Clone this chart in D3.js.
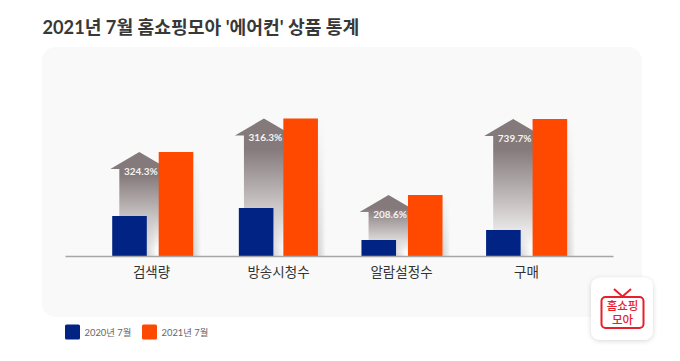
<!DOCTYPE html>
<html>
<head>
<meta charset="utf-8">
<script src="https://cdn.jsdelivr.net/npm/d3@7"></script>
<style>
  html, body { margin: 0; padding: 0; background: #fff; }
  svg { display: block; }
  text { font-family: Lato, "Noto Sans CJK KR", sans-serif; }
</style>
</head>
<body>
<div id="chart"></div>
<script>
const categories = ["검색량", "방송시청수", "알람설정수", "구매"];
const seriesNames = ["2020년 7월", "2021년 7월"];
const values2020 = [40.5, 48.5, 16.5, 26.5];
const values2021 = [104.5, 138, 61.5, 137.5];
const growthLabels = ["324.3%", "316.3%", "208.6%", "739.7%"];
const colors = ["#012484", "#ff4800"];

const width = 680, height = 361;
const baseline = 256.5;

const svg = d3.select("#chart").append("svg")
  .attr("width", width)
  .attr("height", height);

const defs = svg.append("defs");

const arrowGrad = defs.append("linearGradient")
  .attr("id", "arrowGrad")
  .attr("x1", 0).attr("y1", 0).attr("x2", 0).attr("y2", 1);
arrowGrad.append("stop").attr("offset", "0%").attr("stop-color", "#857a7b");
arrowGrad.append("stop").attr("offset", "22%").attr("stop-color", "#857a7b");
arrowGrad.append("stop").attr("offset", "92%").attr("stop-color", "#fbfbfb");

const shadowGrad = defs.append("linearGradient")
  .attr("id", "shadowGrad")
  .attr("x1", 0).attr("y1", 0).attr("x2", 1).attr("y2", 0);
shadowGrad.append("stop").attr("offset", "0%").attr("stop-color", "#000").attr("stop-opacity", 0.16);
shadowGrad.append("stop").attr("offset", "100%").attr("stop-color", "#000").attr("stop-opacity", 0);

const fadeGrad = defs.append("linearGradient")
  .attr("id", "fadeGrad")
  .attr("x1", 0).attr("y1", 0).attr("x2", 0).attr("y2", 1);
fadeGrad.append("stop").attr("offset", "0%").attr("stop-color", "#000");
fadeGrad.append("stop").attr("offset", "100%").attr("stop-color", "#fff");
defs.append("mask")
  .attr("id", "fadeMask")
  .attr("maskContentUnits", "objectBoundingBox")
  .append("rect")
  .attr("width", 1).attr("height", 1)
  .attr("fill", "url(#fadeGrad)");

const cardShadow = defs.append("filter")
  .attr("id", "cardShadow")
  .attr("x", "-30%").attr("y", "-30%").attr("width", "160%").attr("height", "160%");
cardShadow.append("feDropShadow")
  .attr("dx", 0).attr("dy", 1).attr("stdDeviation", 2.5)
  .attr("flood-color", "#000").attr("flood-opacity", 0.16);

// title
svg.append("text")
  .attr("x", 42.5).attr("y", 34)
  .attr("font-size", 18.2)
  .attr("font-weight", 700)
  .attr("fill", "#383838")
  .text("2021년 7월 홈쇼핑모아 '에어컨' 상품 통계");

// panel
svg.append("rect")
  .attr("x", 42).attr("y", 47)
  .attr("width", 600).attr("height", 270)
  .attr("rx", 14)
  .attr("fill", "#f9f9f9");

// scales
const x = d3.scaleBand()
  .domain(categories)
  .range([90.5, 589]);

// the labels in the source are not evenly spaced
const xLabel = d3.scaleOrdinal()
  .domain(categories)
  .range([151, 278, 401, 526]);

const y = d3.scaleLinear()
  .domain([0, 138])
  .range([baseline, baseline - 138]);

const barW = 34.6;
const offsets = [-40.6, 5.9];   // left edge of each bar from the group centre
const blueNudge = [0, 2, 0, 0];

const rows = categories.map((c, i) => ({
  cat: c,
  v0: values2020[i],
  v1: values2021[i],
  label: growthLabels[i],
  nudge: blueNudge[i]
}));

const groups = svg.selectAll("g.group")
  .data(rows)
  .join("g")
  .attr("class", "group")
  .attr("transform", d => `translate(${x(d.cat) + x.bandwidth() / 2},0)`);

// growth arrow behind the bars
groups.append("path")
  .attr("fill", "url(#arrowGrad)")
  .attr("d", d => {
    const top = y(d.v1);
    const cx = -13.5;
    const wing = top + 17;
    const p = d3.path();
    p.moveTo(cx, top);
    p.lineTo(cx + 29, wing);
    p.lineTo(cx + 20, wing);
    p.lineTo(cx + 20, baseline);
    p.lineTo(cx - 20, baseline);
    p.lineTo(cx - 20, wing);
    p.lineTo(cx - 29, wing);
    p.closePath();
    return p.toString();
  });

// soft shadows right of the bars
[["v0", 0, 10], ["v1", 1, 8]].forEach(([key, idx, w]) => {
  groups.append("rect")
    .attr("x", d => offsets[idx] + barW + (idx === 0 ? d.nudge : 0))
    .attr("y", d => y(d[key]))
    .attr("width", w)
    .attr("height", d => baseline - y(d[key]))
    .attr("fill", "url(#shadowGrad)")
    .attr("mask", "url(#fadeMask)");
});

// bars
[["v0", 0], ["v1", 1]].forEach(([key, idx]) => {
  groups.append("rect")
    .attr("x", d => offsets[idx] + (idx === 0 ? d.nudge : 0))
    .attr("y", d => y(d[key]))
    .attr("width", barW)
    .attr("height", d => baseline - y(d[key]))
    .attr("fill", colors[idx]);
});

// growth labels
groups.append("text")
  .attr("x", -12)
  .attr("y", d => y(d.v1) + 22.5)
  .attr("text-anchor", "middle")
  .attr("font-size", 10)
  .attr("font-weight", 700)
  .attr("fill", "#f4f2f2")
  .text(d => d.label);

// axis
const axis = svg.append("g")
  .attr("transform", `translate(0,${baseline})`)
  .call(d3.axisBottom(xLabel).tickSize(0).tickPadding(11));
axis.select(".domain")
  .attr("stroke", "#a6a6a6")
  .attr("stroke-width", 1.4)
  .attr("d", "M65.5,0H613.5");
axis.selectAll("text")
  .attr("font-family", '"Noto Sans CJK KR", sans-serif')
  .attr("font-size", 13.5)
  .attr("fill", "#333");

// legend
const legendX = [65, 142];
const legend = svg.selectAll("g.legend")
  .data(seriesNames)
  .join("g")
  .attr("class", "legend")
  .attr("transform", (d, i) => `translate(${legendX[i]},324.5)`);
legend.append("rect")
  .attr("width", 15).attr("height", 15)
  .attr("rx", 1.5)
  .attr("fill", (d, i) => colors[i]);
legend.append("text")
  .attr("x", 19.5).attr("y", 11.5)
  .attr("font-size", 9.4)
  .attr("fill", "#666")
  .text(d => d);

// logo card
const logo = svg.append("g").attr("transform", "translate(591,277.5)");
logo.append("rect")
  .attr("width", 62).attr("height", 62.5)
  .attr("rx", 9)
  .attr("fill", "#fff")
  .attr("filter", "url(#cardShadow)");
logo.append("rect")
  .attr("x", 10.5).attr("y", 19.5)
  .attr("width", 42).attr("height", 31)
  .attr("rx", 4)
  .attr("fill", "#fff")
  .attr("stroke", "#e8202a")
  .attr("stroke-width", 2);
logo.append("path")
  .attr("d", "M23,11.5L31.5,19L40,11.5")
  .attr("fill", "none")
  .attr("stroke", "#e8202a")
  .attr("stroke-width", 2);
logo.selectAll("text.logo")
  .data(["홈쇼핑", "모아"])
  .join("text")
  .attr("class", "logo")
  .attr("x", 31.5)
  .attr("y", (d, i) => 32.5 + i * 14)
  .attr("text-anchor", "middle")
  .attr("font-family", "Lato, 'Noto Sans CJK KR', sans-serif")
  .attr("font-size", 11.5)
  .attr("font-weight", 500)
  .attr("fill", "#e8202a")
  .text(d => d);
</script>
</body>
</html>
